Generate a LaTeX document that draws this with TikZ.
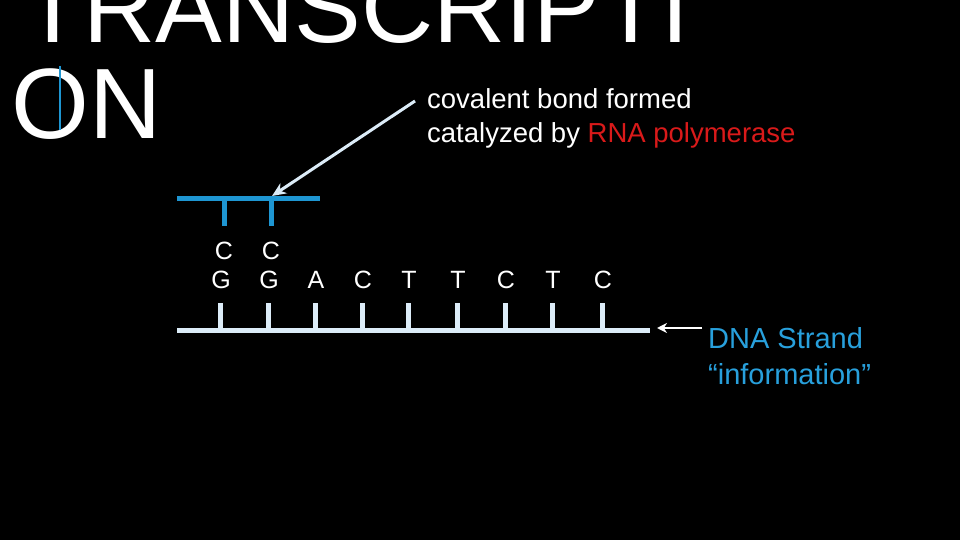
\documentclass[tikz,border=0pt]{standalone}
\usepackage{fontspec}
\setmainfont{Liberation Sans}
\definecolor{rnab}{RGB}{30,150,210}
\definecolor{dnab}{RGB}{220,236,248}
\definecolor{lblb}{RGB}{40,160,220}
\definecolor{polr}{RGB}{217,26,26}
\usetikzlibrary{arrows.meta}
\begin{document}
\begin{tikzpicture}[x=1pt,y=-1pt,
  lbl/.style={anchor=center,inner sep=0,font=\fontsize{25}{25}\selectfont,text=white},
  txt/.style={anchor=base west,inner sep=0,font=\fontsize{27.5}{28}\selectfont,text=white},
  rna/.style={draw=rnab,line width=5pt},
  dna/.style={draw=dnab,line width=5pt}]
\fill[black] (0,0) rectangle (960,540);
\useasboundingbox (0,0) rectangle (960,540);
\node[txt,font=\fontsize{100}{100}\selectfont] (t1) at (22,43) {TRANSCRIPTI};
\node[txt,font=\fontsize{100}{100}\selectfont] (t2) at (11,139) {ON};
\draw[rnab,line width=1.5pt] (60,66) -- (60,130);
% RNA
\draw[rna] (177,198) -- (320,198);
\draw[rna] (224,198) -- (224,226);
\draw[rna] (271,198) -- (271,226);
\node[lbl] (c1) at (224,251) {C};
\node[lbl] (c2) at (271,251) {C};
% DNA
\draw[dna] (177,330) -- (650,330);
\foreach \x/\b [count=\i] in {220/G,268/G,315/A,362/C,408/T,457/T,505/C,552/T,602/C}{
  \draw[dna] (\x,303) -- (\x,330);
  \node[lbl] (b\i) at (\x+1,280) {\b};
}
\node[txt] (cov) at (427,109) {covalent bond formed};
\node[txt] (cat) at (427,143) {catalyzed by \textcolor{polr}{RNA polymerase}};
\coordinate (a1) at (415,101);
\coordinate (a2) at (272,196);
\draw[dnab,line width=3pt,-{Stealth[length=14pt,width=12pt]}] (a1) -- (a2);
\coordinate (d1) at (702,328);
\coordinate (d2) at (657,328);
\draw[white,line width=2.5pt,-{Stealth[length=10pt,width=10pt]}] (d1) -- (d2);
\node[txt,text=lblb,font=\fontsize{29}{30}\selectfont] (ds) at (708,348) {DNA Strand};
\node[txt,text=lblb,font=\fontsize{29}{30}\selectfont] (inf) at (708,384) {“information”};
\end{tikzpicture}
\end{document}
